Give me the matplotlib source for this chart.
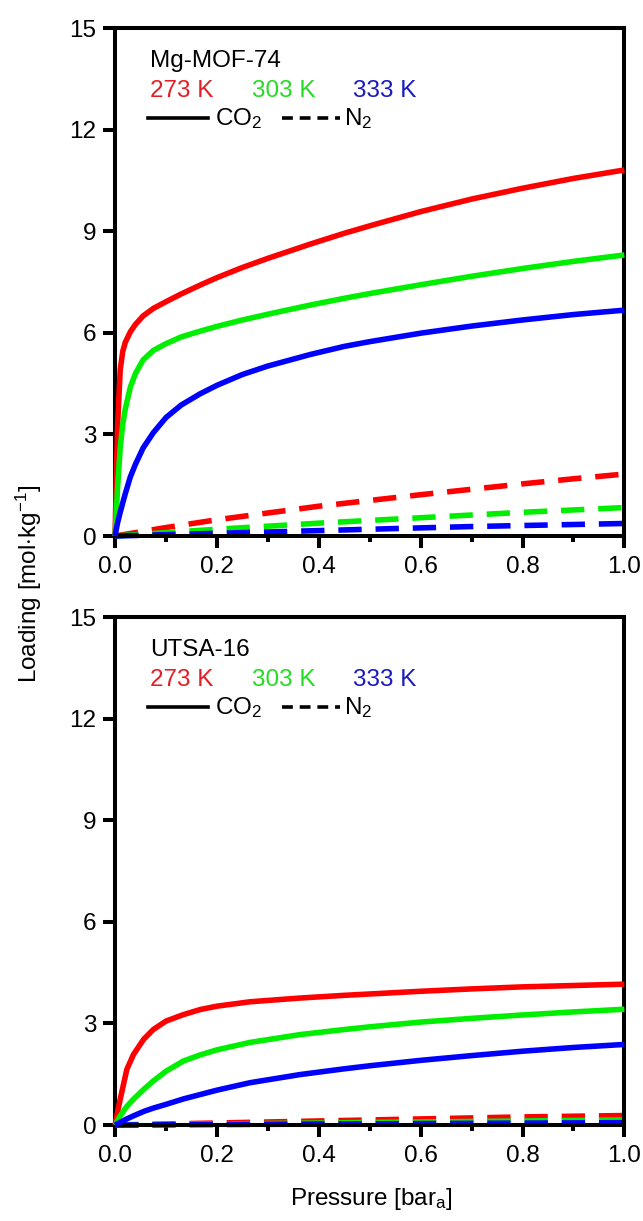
import matplotlib
matplotlib.use("Agg")
import matplotlib.pyplot as plt
from matplotlib.lines import Line2D
from matplotlib.ticker import MultipleLocator

plt.rcParams['font.family'] = ['Liberation Sans', 'DejaVu Sans']
plt.rcParams['mathtext.fontset'] = 'custom'
plt.rcParams['mathtext.rm'] = 'Liberation Sans'
plt.rcParams['mathtext.it'] = 'Liberation Sans:italic'
plt.rcParams['mathtext.bf'] = 'Liberation Sans:bold'

# ---------------- data ----------------
# Mg-MOF-74, CO2
p_mg = [0.0, 0.002, 0.005, 0.01, 0.015, 0.02, 0.03, 0.04, 0.055, 0.075, 0.1, 0.13, 0.167,
        0.2, 0.25, 0.3, 0.383, 0.45, 0.5, 0.6, 0.7, 0.8, 0.9, 1.0]
mg_co2_273 = [0.0, 1.4, 3.3, 4.9, 5.45, 5.72, 6.03, 6.25, 6.5, 6.72, 6.92, 7.15, 7.41,
              7.63, 7.93, 8.2, 8.62, 8.94, 9.16, 9.58, 9.95, 10.27, 10.56, 10.81]
mg_co2_303 = [0.0, 0.6, 1.45, 2.6, 3.3, 3.75, 4.4, 4.8, 5.2, 5.48, 5.68, 5.88, 6.05,
              6.19, 6.38, 6.55, 6.82, 7.02, 7.16, 7.42, 7.67, 7.9, 8.11, 8.3]
mg_co2_333 = [0.0, 0.17, 0.4, 0.7, 0.98, 1.25, 1.75, 2.12, 2.6, 3.05, 3.5, 3.87, 4.2,
              4.45, 4.77, 5.02, 5.36, 5.6, 5.74, 5.99, 6.2, 6.38, 6.54, 6.67]

# UTSA-16, CO2
p_utsa = [0.0, 0.005, 0.01, 0.023, 0.036, 0.056, 0.075, 0.1, 0.134, 0.167, 0.2, 0.265,
          0.363, 0.45, 0.5, 0.6, 0.7, 0.8, 0.9, 1.0]
utsa_co2_273 = [0.0, 0.4, 0.76, 1.64, 2.08, 2.53, 2.82, 3.07, 3.26, 3.41, 3.51, 3.64,
                3.75, 3.83, 3.87, 3.95, 4.02, 4.08, 4.12, 4.16]
utsa_co2_303 = [0.0, 0.14, 0.27, 0.55, 0.76, 1.05, 1.3, 1.59, 1.89, 2.07, 2.22, 2.44,
                2.67, 2.82, 2.9, 3.04, 3.15, 3.25, 3.34, 3.42]
utsa_co2_333 = [0.0, 0.04, 0.08, 0.18, 0.27, 0.4, 0.5, 0.61, 0.77, 0.9, 1.03, 1.25,
                1.49, 1.66, 1.75, 1.91, 2.05, 2.18, 2.29, 2.38]

# N2 (dashed)
p_n2 = [0.0, 0.1, 0.2, 0.3, 0.4, 0.5, 0.6, 0.7, 0.8, 0.9, 1.0]
mg_n2_273 = [0.0, 0.25, 0.48, 0.68, 0.88, 1.05, 1.22, 1.38, 1.54, 1.69, 1.83]
mg_n2_303 = [0.0, 0.1, 0.2, 0.29, 0.38, 0.46, 0.54, 0.62, 0.7, 0.77, 0.84]
mg_n2_333 = [0.0, 0.04, 0.08, 0.12, 0.16, 0.2, 0.24, 0.28, 0.31, 0.34, 0.37]

utsa_n2_273 = [0.0, 0.03, 0.06, 0.09, 0.12, 0.15, 0.18, 0.21, 0.24, 0.26, 0.28]
utsa_n2_303 = [0.0, 0.015, 0.03, 0.045, 0.06, 0.075, 0.09, 0.105, 0.12, 0.135, 0.15]
utsa_n2_333 = [0.0, 0.007, 0.014, 0.021, 0.028, 0.035, 0.042, 0.049, 0.056, 0.063, 0.07]

temps = ["273 K", "303 K", "333 K"]
materials = ["Mg-MOF-74", "UTSA-16"]
x_ticks = [0.0, 0.2, 0.4, 0.6, 0.8, 1.0]
y_ticks = [0, 3, 6, 9, 12, 15]

colors = ["#ff0000", "#00ee00", "#0000ff"]
text_colors = ["#e41e26", "#22dd22", "#1a1ac0"]

FS = 17.5

fig = plt.figure(figsize=(6.43, 12.21), dpi=100)
ax1 = fig.add_axes([0.179, 0.561, 0.792, 0.416])
ax2 = fig.add_axes([0.179, 0.0786, 0.792, 0.416])

panels = [
    (ax1, materials[0], p_mg, [mg_co2_273, mg_co2_303, mg_co2_333], [mg_n2_273, mg_n2_303, mg_n2_333]),
    (ax2, materials[1], p_utsa, [utsa_co2_273, utsa_co2_303, utsa_co2_333], [utsa_n2_273, utsa_n2_303, utsa_n2_333]),
]

lw = 4.0
dash = (0, (4.2, 2.5))
for ax, name, px, co2s, n2s in panels:
    for c, ys in zip(colors, n2s):
        ax.plot(p_n2, ys, color=c, lw=lw, linestyle=dash, dash_capstyle='butt', clip_on=False, zorder=2)
    for c, ys in zip(colors, co2s):
        ax.plot(px, ys, color=c, lw=lw, solid_capstyle='butt', solid_joinstyle='round',
                clip_on=False, zorder=3)

    ax.set_xlim(0, 1.0)
    ax.set_ylim(0, 15)
    ax.set_xticks(x_ticks)
    ax.set_xticklabels([f"{v:.1f}" for v in x_ticks])
    ax.set_yticks(y_ticks)
    ax.set_yticklabels([str(v) for v in y_ticks])
    ax.xaxis.set_minor_locator(MultipleLocator(0.1))
    ax.tick_params(axis='both', which='major', direction='out', length=8.5, width=2.9,
                   labelsize=FS, pad=5)
    ax.tick_params(axis='x', which='major', pad=6)
    ax.tick_params(axis='x', which='minor', direction='out', length=4.5, width=2.9)
    for s in ax.spines.values():
        s.set_linewidth(2.9)

    # in-axes key
    ax.text(0.069, 0.924, name, transform=ax.transAxes, fontsize=FS, va='baseline', ha='left')
    xs = [0.069, 0.269, 0.468]
    for t, tc, xx in zip(temps, text_colors, xs):
        ax.text(xx, 0.864, t, transform=ax.transAxes, fontsize=FS, va='baseline', ha='left', color=tc)
    ax.add_line(Line2D([0.065, 0.183], [0.823, 0.823], transform=ax.transAxes, color='black', lw=2.6))
    ax.text(0.196, 0.809, "CO$_2$", transform=ax.transAxes, fontsize=FS, va='baseline', ha='left')
    ax.add_line(Line2D([0.328, 0.442], [0.823, 0.823], transform=ax.transAxes, color='black', lw=2.6,
                       linestyle=(0, (3.0, 1.9))))
    ax.text(0.450, 0.809, "N$_2$", transform=ax.transAxes, fontsize=FS, va='baseline', ha='left')

fig.text(0.045, 0.522, "Loading [mol$\\cdot$kg$^{-1}$]", rotation=90, fontsize=FS, ha='center', va='center')
fig.text(0.577, 0.018, "Pressure [bar$_\\mathrm{a}$]", fontsize=FS, ha='center', va='center')

fig.savefig("out.png", dpi=100)
